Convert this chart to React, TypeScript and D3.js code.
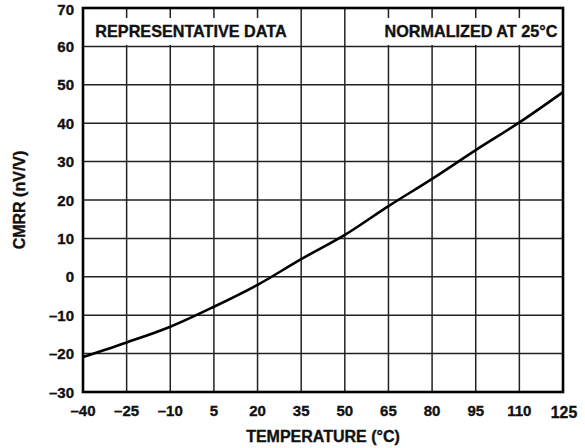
import React from "react";
import * as d3 from "d3";

const temps = [-40, -25, -10, 5, 20, 35, 50, 65, 80, 95, 110, 125];
const cmrr = [-20.9, -17.1, -13.0, -7.8, -2.1, 4.6, 10.9, 18.4, 25.5, 33.0, 40.2, 48.1];
const xTicks = [-40, -25, -10, 5, 20, 35, 50, 65, 80, 95, 110, 125];
const yTicks = [-30, -20, -10, 0, 10, 20, 30, 40, 50, 60, 70];
const leftNote = "REPRESENTATIVE DATA";
const rightNote = "NORMALIZED AT 25°C";
const xTitle = "TEMPERATURE (°C)";
const yTitle = "CMRR (nV/V)";

const W = 585;
const H = 448;
const L = 83;
const R = 563;
const T = 8;
const B = 392;
const FONT = "'Liberation Sans', Arial, Helvetica, sans-serif";

const fmt = (v: number) => (v < 0 ? "\u2013" + Math.abs(v) : String(v));

export default function App() {
  const x = d3.scaleLinear().domain([-40, 125]).range([L, R]);
  const y = d3.scaleLinear().domain([-30, 70]).range([B, T]);
  const line = d3
    .line<number>()
    .x((_, i) => x(temps[i]))
    .y((d) => y(d))
    .curve(d3.curveMonotoneX);

  const textStyle = { stroke: "#111", strokeWidth: 0.35 } as React.CSSProperties;

  return (
    <svg
      width={W}
      height={H}
      style={{ position: "absolute", left: 0, top: 0, background: "#fff" }}
      fontFamily={FONT}
      fontWeight="bold"
    >
      {xTicks.map((t) => (
        <line key={"vx" + t} x1={x(t)} x2={x(t)} y1={T} y2={B} stroke="#222" strokeWidth={1.5} />
      ))}
      {yTicks.map((t) => (
        <line key={"hy" + t} x1={L} x2={R} y1={y(t)} y2={y(t)} stroke="#222" strokeWidth={1.5} />
      ))}
      <rect x={90} y={18} width={203} height={27} fill="#fff" />
      <rect x={384} y={18} width={175} height={27} fill="#fff" />
      <text x={191} y={37} fontSize={16.2} textAnchor="middle" fill="#111" style={textStyle}>
        {leftNote}
      </text>
      <text x={471} y={37} fontSize={16.2} textAnchor="middle" fill="#111" style={textStyle}>
        {rightNote}
      </text>
      <path d={line(cmrr) || ""} fill="none" stroke="#000" strokeWidth={2.6} />
      <rect x={L} y={T} width={R - L} height={B - T} fill="none" stroke="#000" strokeWidth={2.6} />
      {yTicks.map((t) => (
        <text
          key={"yl" + t}
          x={74}
          y={t === 70 ? y(t) + 7 : y(t) + 5.5}
          fontSize={15}
          textAnchor="end"
          fill="#111"
          style={textStyle}
        >
          {fmt(t)}
        </text>
      ))}
      {xTicks.map((t) => (
        <text
          key={"xl" + t}
          x={x(t) + (t === 125 ? 1 : 0)}
          y={t === 125 ? 418 : 416}
          fontSize={t === 125 ? 15.8 : 15}
          textAnchor="middle"
          fill="#111"
          style={textStyle}
        >
          {fmt(t)}
        </text>
      ))}
      <text x={(L + R) / 2} y={442} fontSize={16} textAnchor="middle" fill="#111" style={textStyle}>
        {xTitle}
      </text>
      <text
        transform={`translate(25,200) rotate(-90)`}
        fontSize={16}
        textAnchor="middle"
        fill="#111"
        style={textStyle}
      >
        {yTitle}
      </text>
    </svg>
  );
}
